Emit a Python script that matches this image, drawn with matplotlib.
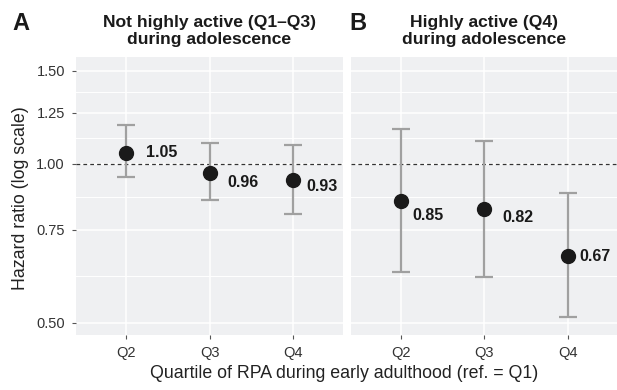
import numpy as np
import matplotlib
matplotlib.use("Agg")
import matplotlib.pyplot as plt
from matplotlib.ticker import FixedLocator, NullFormatter

plt.rcParams['font.family'] = ['Liberation Sans', 'DejaVu Sans']

quartiles = ['Q2', 'Q3', 'Q4']
titles = ['Not highly active (Q1\u2013Q3)\nduring adolescence',
          'Highly active (Q4)\nduring adolescence']
panel_tags = ['A', 'B']

hr_a = [1.05, 0.96, 0.93]
lo_a = [0.945, 0.852, 0.804]
hi_a = [1.184, 1.094, 1.083]

hr_b = [0.85, 0.82, 0.67]
lo_b = [0.623, 0.610, 0.512]
hi_b = [1.163, 1.105, 0.881]

yticks = [0.50, 0.75, 1.00, 1.25, 1.50]

# label offsets in pixels (dx, dy) for each point
offsets = [[(20, 0), (18, -9), (13, -6)],
           [(12, -14), (18, -8), (12, -1)]]

fig = plt.figure(figsize=(6.17, 3.9), dpi=100)
w = 0.4327
axes = [fig.add_axes([0.1232, 0.141, w, 0.7128]),
        fig.add_axes([0.5684, 0.141, w, 0.7128])]

panels = [(hr_a, lo_a, hi_a), (hr_b, lo_b, hi_b)]
x = np.arange(len(quartiles))
minor = [np.sqrt(a * b) for a, b in zip(yticks[:-1], yticks[1:])]

for i, (ax, (hr, lo, hi)) in enumerate(zip(axes, panels)):
    ax.set_facecolor('#eff0f2')
    ax.set_yscale('log')
    ax.set_ylim(0.474, 1.592)
    ax.set_xlim(-0.6, 2.6)
    ax.yaxis.set_major_locator(FixedLocator(yticks))
    ax.yaxis.set_minor_locator(FixedLocator(minor))
    ax.yaxis.set_minor_formatter(NullFormatter())
    ax.set_xticks(x)
    ax.set_xticklabels(quartiles)
    ax.grid(True, which='major', color='white', linewidth=1.1)
    ax.grid(True, which='minor', axis='y', color='white', linewidth=0.7)
    ax.set_axisbelow(True)
    for s in ax.spines.values():
        s.set_visible(False)
    ax.tick_params(which='major', length=3, width=0.8, color='#555555',
                   labelsize=10.5, labelcolor='#333333', pad=5)
    ax.tick_params(which='minor', length=0)
    if i == 0:
        ax.set_yticklabels(['%.2f' % t for t in yticks])
    else:
        ax.tick_params(axis='y', which='both', left=False, labelleft=False)

    ax.axhline(1.0, color='#333333', linestyle=(0, (3, 2.5)), linewidth=0.9, zorder=2)
    hr = np.array(hr); lo = np.array(lo); hi = np.array(hi)
    ax.errorbar(x, hr, yerr=[hr - lo, hi - hr], fmt='none', ecolor='#a0a0a0',
                elinewidth=1.6, capsize=6.5, capthick=1.6, zorder=3)
    ax.plot(x, hr, 'o', color='#1a1a1a', markersize=10, zorder=4)
    for j in range(len(x)):
        dx, dy = offsets[i][j]
        ax.annotate('%.2f' % hr[j], (x[j], hr[j]), xytext=(dx * 0.72, dy * 0.72),
                    textcoords='offset points', ha='left', va='center',
                    fontsize=11.5, fontweight='bold', color='#1a1a1a', zorder=5)

    cx = (ax.get_position().x0 + ax.get_position().x1) / 2
    fig.text(cx, 1 - 31 / 390, titles[i], ha='center', va='center',
             fontsize=12.6, fontweight='bold', linespacing=1.1, color='#1a1a1a')

fig.text(20.5 / 617, 1 - 23 / 390, 'A', ha='center', va='center', fontsize=17, fontweight='bold', color='#1a1a1a')
fig.text(358 / 617, 1 - 23 / 390, 'B', ha='center', va='center', fontsize=17, fontweight='bold', color='#1a1a1a')

fig.text(344 / 617, 1 - 378 / 390, 'Quartile of RPA during early adulthood (ref. = Q1)',
         ha='center', va='baseline', fontsize=12.8, color='#222222')
fig.text(20.5 / 617, 1 - 198 / 390, 'Hazard ratio (log scale)', rotation=90,
         ha='center', va='center', fontsize=12.8, color='#222222')

fig.savefig('out.png', dpi=100)
